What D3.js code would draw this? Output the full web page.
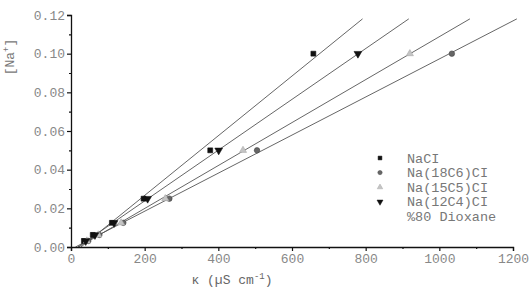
<!DOCTYPE html>
<html>
<head>
<meta charset="utf-8">
<script src="https://cdn.jsdelivr.net/npm/d3@7"></script>
<style>
  body { margin: 0; background: #fff; }
  text { font-family: "Liberation Mono", "DejaVu Sans Mono", monospace; }
</style>
</head>
<body>
<script>
// concentrations [Na+] and conductivities (uS/cm)
const conc = [0.003125, 0.00625, 0.0125, 0.025, 0.05, 0.1];
const kNaCl = [35, 59, 111, 197, 378, 658];
const k18C6 = [47, 77, 142, 267, 505, 1034];
const k15C5 = [43, 74, 136, 256, 467, 920];
const k12C4 = [40, 65, 117, 208, 401, 779];
const names = ["NaCI", "Na(18C6)CI", "Na(15C5)CI", "Na(12C4)CI"];
const xTicks = [0, 200, 400, 600, 800, 1000, 1200];
const yTicks = [0, 0.02, 0.04, 0.06, 0.08, 0.10, 0.12];

const width = 532, height = 289;
const margin = {top: 15, right: 19, bottom: 42, left: 71};

const svg = d3.select("body").append("svg")
  .attr("width", width)
  .attr("height", height);

const x = d3.scaleLinear().domain([0, 1200]).range([margin.left, width - margin.right]);
const y = d3.scaleLinear().domain([0, 0.12]).range([height - margin.bottom, margin.top]);

const series = [
  {name: names[0], k: kNaCl, sym: d3.symbolSquare, size: 24, rot: 0, fill: "#111", stroke: "#111"},
  {name: names[1], k: k18C6, sym: d3.symbolCircle, size: 24, rot: 0, fill: "#666", stroke: "#444"},
  {name: names[2], k: k15C5, sym: d3.symbolTriangle, size: 22, rot: 0, fill: "#c4c4c4", stroke: "#aaa"},
  {name: names[3], k: k12C4, sym: d3.symbolTriangle, size: 26, rot: 180, fill: "#111", stroke: "#111"}
];

// least squares fit for each series
function fit(xs, ys) {
  const mx = d3.mean(xs), my = d3.mean(ys);
  let sxy = 0, sxx = 0;
  xs.forEach((v, i) => { sxy += (v - mx) * (ys[i] - my); sxx += (v - mx) * (v - mx); });
  const b = sxy / sxx;
  return {b: b, a: my - b * mx};
}

// fit lines
series.forEach(s => {
  const f = fit(s.k, conc);
  const x0 = -f.a / f.b;
  const x1 = (0.118 - f.a) / f.b;
  svg.append("line")
    .attr("x1", x(x0)).attr("y1", y(0))
    .attr("x2", x(x1)).attr("y2", y(0.118))
    .attr("stroke", "#555")
    .attr("stroke-width", 0.9);
});

// axes
svg.append("g")
  .attr("transform", "translate(0," + y(0) + ")")
  .call(d3.axisBottom(x).tickValues(xTicks).tickFormat(d3.format("d")).tickSize(4).tickPadding(3));
svg.append("g")
  .attr("transform", "translate(0," + y(0) + ")")
  .call(d3.axisBottom(x).tickValues(d3.range(100, 1200, 200)).tickFormat("").tickSize(2))
  .select(".domain").remove();

svg.append("g")
  .attr("transform", "translate(" + x(0) + ",0)")
  .call(d3.axisLeft(y).tickValues(yTicks).tickFormat(d3.format(".2f")).tickSize(4).tickPadding(2));
svg.append("g")
  .attr("transform", "translate(" + x(0) + ",0)")
  .call(d3.axisLeft(y).tickValues([0.01, 0.03, 0.05, 0.07, 0.09, 0.11]).tickFormat("").tickSize(2))
  .select(".domain").remove();

svg.selectAll(".domain").attr("stroke", "#111").attr("stroke-width", 1.3);
svg.selectAll(".tick line").attr("stroke", "#111").attr("stroke-width", 1.2);
svg.selectAll(".tick text")
  .attr("font-family", "Liberation Mono, monospace")
  .attr("font-size", 13)
  .attr("fill", "#888");

// markers
series.forEach(s => {
  svg.append("g").selectAll("path")
    .data(s.k)
    .join("path")
    .attr("d", d3.symbol().type(s.sym).size(s.size))
    .attr("transform", (d, i) => "translate(" + x(d) + "," + y(conc[i]) + ") rotate(" + s.rot + ")")
    .attr("fill", s.fill)
    .attr("stroke", s.stroke)
    .attr("stroke-width", 0.6);
});

// legend
const legend = svg.append("g").attr("transform", "translate(380,158)");
series.forEach((s, i) => {
  const row = legend.append("g").attr("transform", "translate(0," + (i * 14.6) + ")");
  row.append("path")
    .attr("d", d3.symbol().type(s.sym).size(s.size * 0.6))
    .attr("transform", "rotate(" + s.rot + ")")
    .attr("fill", s.fill)
    .attr("stroke", s.stroke)
    .attr("stroke-width", 0.5);
  row.append("text")
    .attr("x", 27).attr("y", 4.5)
    .attr("font-size", 13.5)
    .attr("fill", "#777")
    .text(s.name);
});
legend.append("text")
  .attr("x", 27).attr("y", 4 * 14.6 + 4.5)
  .attr("font-size", 13.5)
  .attr("fill", "#777")
  .text("%80 Dioxane");

// axis titles
svg.append("text")
  .attr("transform", "translate(14,57) rotate(-90)")
  .attr("text-anchor", "middle")
  .attr("font-size", 13)
  .attr("fill", "#777")
  .html("[Na<tspan dy='-5' font-size='9'>+</tspan><tspan dy='5'>]</tspan>");

svg.append("text")
  .attr("x", 232).attr("y", 284)
  .attr("text-anchor", "middle")
  .attr("font-size", 13)
  .attr("fill", "#666")
  .html("κ (µS cm<tspan dy='-5' font-size='9'>-1</tspan><tspan dy='5'>)</tspan>");
</script>
</body>
</html>
